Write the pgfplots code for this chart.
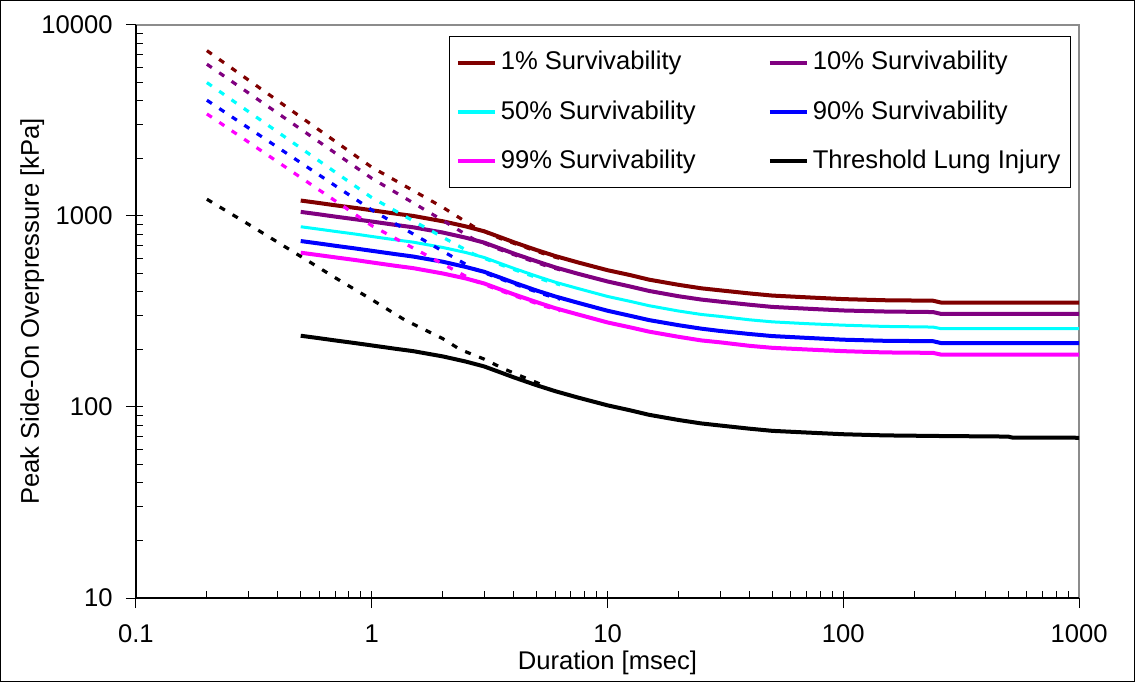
\documentclass[border=0pt]{standalone}
\usepackage{fontspec}
\setmainfont{Liberation Sans}
\usepackage{pgfplots}
\pgfplotsset{compat=1.18}
\definecolor{xlbrown}{RGB}{128,0,0}
\definecolor{xlpurple}{RGB}{128,0,128}
\definecolor{xlcyan}{RGB}{0,255,255}
\definecolor{xlblue}{RGB}{0,0,255}
\definecolor{xlmag}{RGB}{255,0,255}
\newcommand{\chfont}{\fontsize{12.8}{15}\selectfont}
\begin{document}
\chfont
\begin{tikzpicture}
\begin{axis}[
  scale only axis,
  width=471.5pt, height=286.5pt,
  xmode=log, ymode=log,
  xmin=0.1, xmax=1000, ymin=10, ymax=10000,
  xtick={0.1,1,10,100,1000}, xticklabels={0.1,1,10,100,1000},
  ytick={10,100,1000,10000}, yticklabels={10,100,1000,10000},
  xtick pos=bottom, ytick pos=left,
  tick align=inside,
  major tick length=3.5pt, minor tick length=3.5pt,
  tick style={black, line width=0.5pt},
  extra x ticks={0.1,1,10,100,1000}, extra x tick labels={},
  extra y ticks={10,100,1000,10000}, extra y tick labels={},
  extra tick style={tick align=outside, major tick length=5pt},
  axis line style={black!45, line width=0.6pt},
  font=\chfont,
  xticklabel style={anchor=base, yshift=-22pt, font=\chfont},
  yticklabel style={anchor=east, inner sep=0pt, xshift=-11.5pt, font=\chfont},
  xlabel={Duration [msec]},
  ylabel={Peak Side-On Overpressure [kPa]},
  xlabel style={at={(axis description cs:0.5,0)}, anchor=base, yshift=-35.5pt, font=\chfont},
  ylabel style={at={(axis description cs:-0.1029,0.5)}, anchor=base, rotate=0, font=\chfont},
  legend columns=2,
  legend style={at={(rel axis cs:0.9915,0.981)}, anchor=north east,
    draw=black, line width=0.6pt, fill=white, inner xsep=3pt, inner ysep=5.5pt,
    row sep=9.5pt, font=\chfont, cells={anchor=west},
    nodes={inner xsep=2pt},
    /tikz/every even column/.append style={column sep=34pt}},
  legend image code/.code={\draw[#1, line width=2pt] (0pt,0pt) -- (18.5pt,0pt);},
  every axis plot/.append style={line join=round},
]
\coordinate (SW) at (rel axis cs:0,0);
\coordinate (NE) at (rel axis cs:1,1);
\coordinate (NW) at (rel axis cs:0,1);
\coordinate (SE) at (rel axis cs:1,0);

% solid curves
\addplot[xlbrown, line width=2pt] coordinates {
(0.5,1204)(0.6,1168)(0.7,1137)(0.85,1102)(1,1071)(1.25,1030)(1.5,1000)(2,938)(2.5,882)(3,831)(3.5,775)(4,729)(5,663)(6,617)(7.5,571)(10,520)(12.5,490)(15,464)(20,436)(25,418)(30,408)(40,393)(50,383)(70,375)(100,367)(150,362)(240,360)(260,352)(1000,352)};
\addlegendentry{1\% Survivability}
\addplot[xlpurple, line width=2pt] coordinates {
(0.5,1050)(0.6,1019)(0.7,992)(0.85,961)(1,935)(1.25,899)(1.5,872)(2,819)(2.5,770)(3,725)(3.5,676)(4,636)(5,579)(6,538)(7.5,498)(10,454)(12.5,427)(15,405)(20,380)(25,365)(30,356)(40,343)(50,334)(70,327)(100,320)(150,316)(240,314)(260,307)(1000,307)};
\addlegendentry{10\% Survivability}
\addplot[xlcyan, line width=1.5pt] coordinates {
(0.5,878)(0.6,852)(0.7,830)(0.85,804)(1,781)(1.25,751)(1.5,729)(2,684)(2.5,644)(3,606)(3.5,565)(4,532)(5,484)(6,450)(7.5,417)(10,379)(12.5,357)(15,339)(20,318)(25,305)(30,298)(40,286)(50,279)(70,273)(100,268)(150,264)(240,262)(260,257)(1000,257)};
\addlegendentry{50\% Survivability}
\addplot[xlblue, line width=2pt] coordinates {
(0.5,739)(0.6,717)(0.7,698)(0.85,676)(1,657)(1.25,632)(1.5,613)(2,576)(2.5,541)(3,510)(3.5,476)(4,448)(5,407)(6,379)(7.5,351)(10,319)(12.5,300)(15,285)(20,268)(25,257)(30,250)(40,241)(50,235)(70,230)(100,225)(150,222)(240,221)(260,216)(1000,216)};
\addlegendentry{90\% Survivability}
\addplot[xlmag, line width=2pt] coordinates {
(0.5,642)(0.6,623)(0.7,607)(0.85,588)(1,571)(1.25,549)(1.5,533)(2,500)(2.5,471)(3,443)(3.5,413)(4,389)(5,354)(6,329)(7.5,305)(10,277)(12.5,261)(15,248)(20,233)(25,223)(30,218)(40,209)(50,204)(70,200)(100,196)(150,193)(240,192)(260,188)(1000,188)};
\addlegendentry{99\% Survivability}
\addplot[black, line width=2pt] coordinates {
(0.5,236)(0.6,229)(0.7,223)(0.85,216)(1,210)(1.25,202)(1.5,196)(2,184)(2.5,173)(3,163)(3.5,152)(4,143)(5,130)(6,121)(7.5,112)(10,102)(12.5,96)(15,91)(20,85.5)(25,82)(30,80)(40,77)(50,75)(70,73.5)(100,72)(150,71)(250,70.5)(500,70)(520,69.2)(1000,69)};
\addlegendentry{Threshold Lung Injury}

% dotted extensions
\addplot[forget plot, xlbrown, line width=1.6pt, dash pattern=on 3pt off 4.5pt] coordinates {
(0.2,7335)(0.3,5148)(0.5,3296)(0.7,2458)(1,1800)(1.4,1424)(2,1110)(2.7,880)(3.5,763)(4.5,684)(5.5,628)(6.3,598)};
\addplot[forget plot, xlpurple, line width=1.6pt, dash pattern=on 3pt off 4.5pt] coordinates {
(0.2,6226)(0.3,4406)(0.5,2847)(0.7,2136)(1,1575)(1.4,1231)(2,948)(2.7,757)(3.5,666)(4.5,596)(5.5,548)(6.3,522)};
\addplot[forget plot, xlcyan, line width=1.6pt, dash pattern=on 3pt off 4.5pt] coordinates {
(0.2,4989)(0.3,3519)(0.5,2266)(0.7,1696)(1,1248)(1.4,988)(2,774)(2.7,632)(3.5,557)(4.5,498)(5.5,458)(6.3,436)};
\addplot[forget plot, xlblue, line width=1.6pt, dash pattern=on 3pt off 4.5pt] coordinates {
(0.2,4035)(0.3,2891)(0.5,1900)(0.7,1441)(1,1075)(1.4,845)(2,654)(2.7,530)(3.5,469)(4.5,419)(5.5,385)(6.3,367)};
\addplot[forget plot, xlmag, line width=1.6pt, dash pattern=on 3pt off 4.5pt] coordinates {
(0.2,3420)(0.3,2437)(0.5,1590)(0.7,1200)(1,890)(1.4,711)(2,561)(2.7,460)(3.5,407)(4.5,364)(5.5,335)(6.3,319)};
\addplot[forget plot, black, line width=1.6pt, dash pattern=on 3pt off 4.5pt] coordinates {
(0.2,1223)(0.3,905)(0.5,614)(0.7,475)(1,365)(1.384,285)(2,228)(2.37,200)(3,178)(3.61,159)(4.3,145)(5.17,132)};
\end{axis}
\draw[black, line width=0.6pt] (NW) -- (SW) -- (SE);
\draw[black, line width=0.7pt] ([shift={(-67.6pt,-41.6pt)}]SW) rectangle ([shift={(27.6pt,12.1pt)}]NE);
\end{tikzpicture}
\end{document}
